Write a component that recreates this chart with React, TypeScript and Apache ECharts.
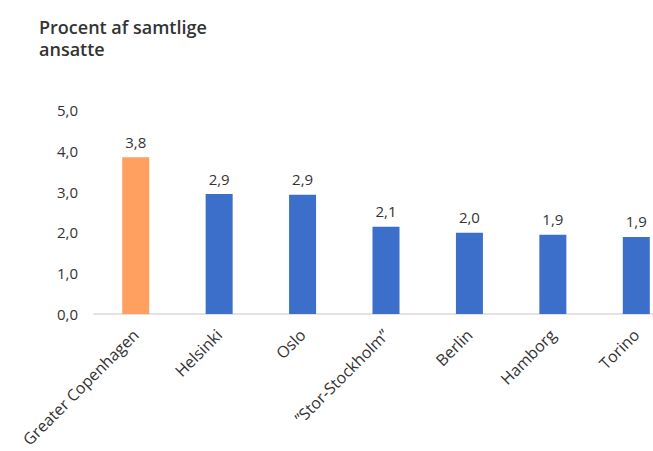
import React, { useEffect, useRef } from "react";
import * as echarts from "echarts";

const categories = [
  "Greater Copenhagen",
  "Helsinki",
  "Oslo",
  "\u201DStor-Stockholm\u201D",
  "Berlin",
  "Hamborg",
  "Torino",
];
const values = [3.84, 2.94, 2.92, 2.14, 1.99, 1.94, 1.89];
const barColors = ["#FFA060", "#3B6FC9", "#3B6FC9", "#3B6FC9", "#3B6FC9", "#3B6FC9", "#3B6FC9"];
const titleLines = ["Procent af samtlige", "ansatte"];

const fmt = (v: number) => v.toFixed(1).replace(".", ",");
const FONT = "Open Sans";

export default function App() {
  const ref = useRef<HTMLDivElement>(null);
  useEffect(() => {
    if (!ref.current) return;
    const chart = echarts.init(ref.current, undefined, { renderer: "svg" });
    chart.setOption({
      animation: false,
      textStyle: { fontFamily: FONT },
      title: {
        text: titleLines.join("\n"),
        left: 34,
        top: 11,
        textStyle: {
          fontFamily: FONT,
          fontSize: 18,
          fontWeight: 600,
          color: "#333333",
          lineHeight: 22,
        },
      },
      grid: { left: 94, top: 110, bottom: 137, right: -25, outerBoundsMode: "none", containLabel: false },
      xAxis: {
        type: "category",
        data: categories,
        axisLine: { lineStyle: { color: "#D9D9D9", width: 1.5 } },
        axisTick: { show: false },
        axisLabel: {
          rotate: 45,
          interval: 0,
          margin: 18,
          fontSize: 16,
          color: "#333333",
          fontFamily: FONT,
        },
      },
      yAxis: {
        type: "value",
        min: 0,
        max: 5,
        interval: 1,
        splitLine: { show: false },
        axisLine: { show: false },
        axisTick: { show: false },
        axisLabel: {
          formatter: (v: number) => fmt(v),
          fontSize: 15,
          color: "#333333",
          margin: 16,
          fontFamily: FONT,
        },
      },
      series: [
        {
          type: "bar",
          barWidth: 27,
          data: values.map((v, i) => ({ value: v, itemStyle: { color: barColors[i] } })),
          label: {
            show: true,
            position: "top",
            distance: 8,
            formatter: (p: any) => fmt(p.value),
            fontSize: 15,
            color: "#333333",
            fontFamily: FONT,
          },
        },
      ],
    });
    return () => chart.dispose();
  }, []);
  return (
    <div
      ref={ref}
      style={{ position: "fixed", left: 0, top: 0, width: 653, height: 451, background: "#fff" }}
    />
  );
}
